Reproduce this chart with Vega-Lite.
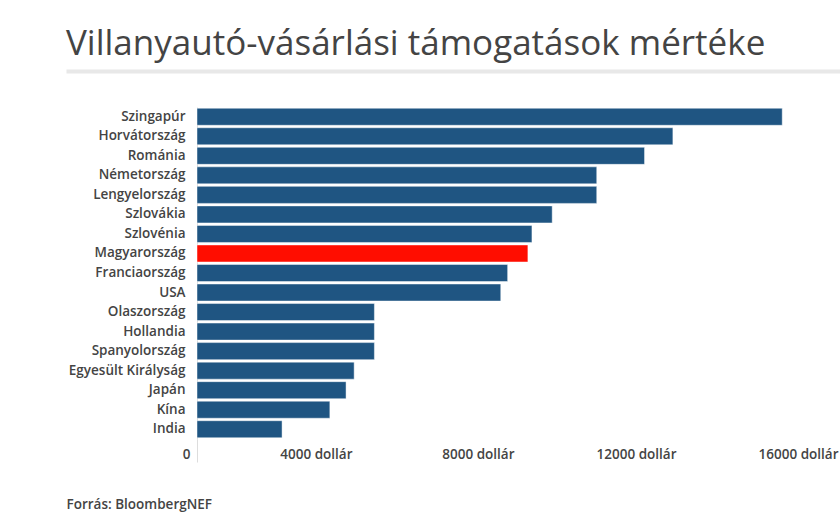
{
  "$schema": "https://vega.github.io/schema/vega-lite/v6.json",
  "autosize": {"type": "none"},
  "width": 774,
  "height": 332,
  "padding": {"left": 66, "top": 107, "right": 0, "bottom": 77},
  "background": "white",
  "title": {
    "text": "Villanyautó-vásárlási támogatások mértéke",
    "anchor": "start",
    "frame": "group",
    "font": "Open Sans",
    "fontSize": 35,
    "fontWeight": 500,
    "color": "#444444",
    "offset": 9
  },
  "data": {
    "values": [
      {"country": "Szingapúr", "value": 14450},
      {"country": "Horvátország", "value": 11750},
      {"country": "Románia", "value": 11050},
      {"country": "Németország", "value": 9870},
      {"country": "Lengyelország", "value": 9870},
      {"country": "Szlovákia", "value": 8770},
      {"country": "Szlovénia", "value": 8270},
      {"country": "Magyarország", "value": 8170},
      {"country": "Franciaország", "value": 7670},
      {"country": "USA", "value": 7500},
      {"country": "Olaszország", "value": 4380},
      {"country": "Hollandia", "value": 4380},
      {"country": "Spanyolország", "value": 4380},
      {"country": "Egyesült Királyság", "value": 3880},
      {"country": "Japán", "value": 3680},
      {"country": "Kína", "value": 3280},
      {"country": "India", "value": 2100}
    ]
  },
  "layer": [
    {
      "mark": {"type": "bar", "stroke": "white", "strokeWidth": 1, "strokeOpacity": 0.45},
      "encoding": {
        "y": {
          "field": "country",
          "type": "nominal",
          "sort": null,
          "scale": {"paddingInner": 0.128, "paddingOuter": 0.064},
          "axis": {
            "title": null,
            "orient": "left",
            "offset": -131,
            "ticks": false,
            "tickSize": 0,
            "labelPadding": 12,
            "domain": true,
            "domainColor": "#dddddd",
            "domainWidth": 1,
            "labelFont": "Open Sans",
            "labelFontSize": 13.5,
            "labelFontWeight": 600,
            "labelColor": "#444444",
            "labelLimit": 300,
            "grid": false
          }
        },
        "x": {
          "field": "value",
          "type": "quantitative",
          "scale": {"domain": [-3235, 16000], "range": [0, 779], "nice": false, "zero": false},
          "axis": {
            "orient": "bottom",
            "values": [0, 4000, 8000, 12000, 16000],
            "labelExpr": "datum.value === 0 ? '0' : datum.value + ' dollár'",
            "labelAlign": "right",
            "labelOffset": -7,
            "labelFlush": false,
            "labelOverlap": false,
            "labelBound": false,
            "labelPadding": -15,
            "labelFont": "Open Sans",
            "labelFontSize": 13.5,
            "labelFontWeight": 600,
            "labelColor": "#444444",
            "domain": false,
            "grid": false,
            "ticks": true,
            "tickSize": 23,
            "tickColor": "#dddddd",
            "tickOpacity": {"condition": {"test": "datum.value === 0", "value": 1}, "value": 0},
            "title": "Forrás: BloombergNEF",
            "titleAnchor": "start",
            "titleAlign": "left",
            "titleFont": "Open Sans",
            "titleFontSize": 13.5,
            "titleFontWeight": 600,
            "titleColor": "#444444",
            "titlePadding": 35
          }
        },
        "color": {
          "condition": {"test": "datum.country === 'Magyarország'", "value": "#ff0d00"},
          "value": "#1f5582"
        }
      }
    },
    {
      "mark": {"type": "bar", "opacity": 0},
      "encoding": {
        "x": {
          "field": "value",
          "type": "quantitative",
          "axis": {
            "orient": "top",
            "offset": 36,
            "labels": false,
            "ticks": false,
            "grid": false,
            "title": null,
            "domain": true,
            "domainColor": "#e8e8e8",
            "domainWidth": 4
          }
        }
      }
    }
  ],
  "resolve": {"axis": {"x": "independent"}},
  "config": {
    "view": {"stroke": null},
    "font": "Open Sans"
  }
}
